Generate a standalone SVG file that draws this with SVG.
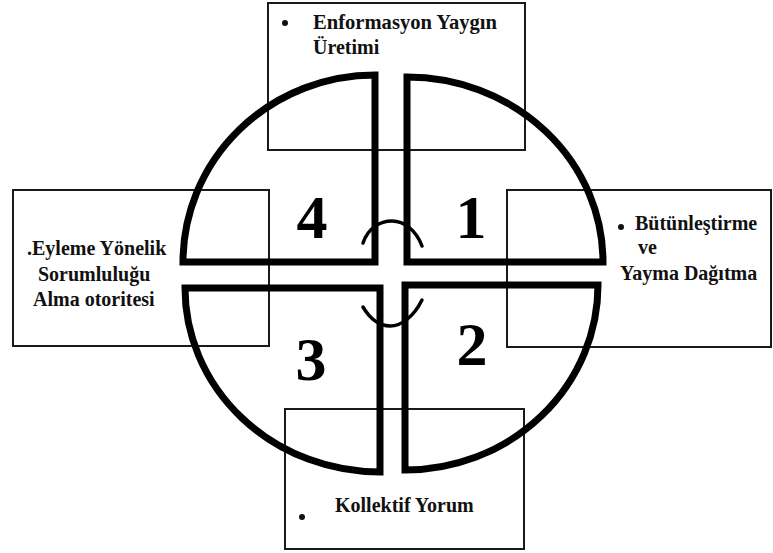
<svg xmlns="http://www.w3.org/2000/svg" width="773" height="553" viewBox="0 0 773 553">
  <style>
    .box { fill: none; stroke: #1a1a1a; stroke-width: 2; }
    .quad { fill: none; stroke: #000; stroke-width: 7; stroke-linejoin: miter; }
    .lbl { font-family: "Liberation Serif", "Times New Roman", serif; font-weight: bold; font-size: 20px; fill: #111; }
    .num { font-family: "Liberation Serif", "Times New Roman", serif; font-weight: bold; font-size: 62px; fill: #000; text-anchor: middle; }
    .link { fill: none; stroke: #000; stroke-width: 3.5; stroke-linecap: round; }
    .dot { fill: #111; }
  </style>
  <rect width="773" height="553" fill="#fff"/>

  <g id="box-top">
    <rect class="box" x="268" y="3" width="257" height="147"/>
    <circle class="dot" cx="285" cy="23" r="3"/>
    <text class="lbl" x="313" y="29" textLength="184" lengthAdjust="spacingAndGlyphs">Enformasyon Yaygın</text>
    <text class="lbl" x="313" y="54">Üretimi</text>
  </g>

  <g id="box-left">
    <rect class="box" x="13" y="190" width="256" height="156"/>
    <text class="lbl" x="27" y="255">.Eyleme Yönelik</text>
    <text class="lbl" x="38" y="281">Sorumluluğu</text>
    <text class="lbl" x="33" y="306">Alma otoritesi</text>
  </g>

  <g id="box-right">
    <rect class="box" x="507" y="190" width="264" height="157"/>
    <circle class="dot" cx="621" cy="227" r="3"/>
    <text class="lbl" x="635" y="230">Bütünleştirme</text>
    <text class="lbl" x="638" y="254">ve</text>
    <text class="lbl" x="620" y="280">Yayma Dağıtma</text>
  </g>

  <g id="box-bottom">
    <rect class="box" x="285" y="409" width="239" height="140"/>
    <circle class="dot" cx="302" cy="517" r="3"/>
    <text class="lbl" x="335" y="512">Kollektif Yorum</text>
  </g>

  <g id="q4">
    <path class="quad" d="M375,75 L375,262 L183,262 A192,187 0 0 1 375,75 Z"/>
    <text class="num" x="312" y="238">4</text>
  </g>
  <g id="q1">
    <path class="quad" d="M407,262 L407,77 A196,185 0 0 1 603,262 Z"/>
    <text class="num" x="471" y="238">1</text>
  </g>
  <g id="q2">
    <path class="quad" d="M405,285 L598,285 A193,185 0 0 1 405,470 Z"/>
    <text class="num" x="472" y="365">2</text>
  </g>
  <g id="q3">
    <path class="quad" d="M380,288 L380,472 A195,184 0 0 1 185,288 Z"/>
    <text class="num" x="311" y="380">3</text>
  </g>

  <g id="connectors">
    <path class="link" d="M363,243 C368,228 380,221 392,221 C404,221 416,230 422,246"/>
    <path class="link" d="M363,307 C370,319 380,326 390,326 C402,326 414,316 422,300"/>
  </g>
</svg>
